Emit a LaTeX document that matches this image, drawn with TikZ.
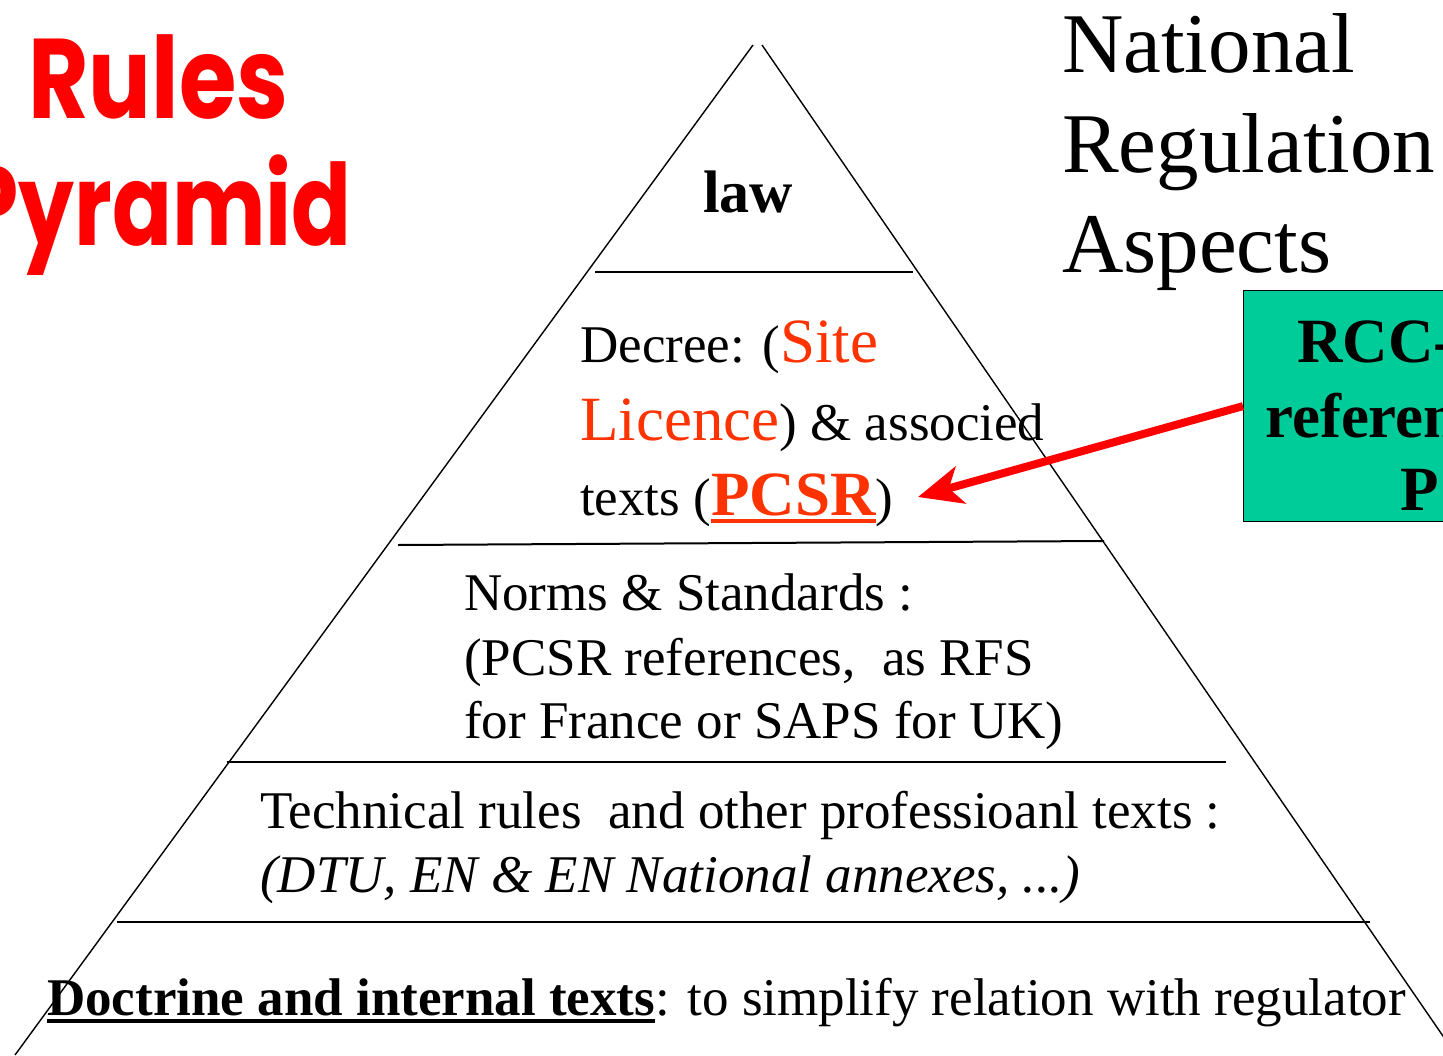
\documentclass[tikz,border=0pt]{standalone}
\usepackage{fontspec}
\setmainfont{Liberation Serif}
\newfontfamily\titlefont{Poppins}
\usetikzlibrary{arrows.meta}
\definecolor{titlered}{HTML}{FF0000}
\definecolor{hilite}{HTML}{FF3300}
\definecolor{boxgreen}{HTML}{00CC99}
\definecolor{arrowred}{HTML}{FF0000}
% font size helper (sizes given in pt)
\newcommand\sz[1]{\fontsize{#1}{#1}\selectfont}
% heavy underline that scales with the large text
\newcommand\thickul[1]{\setbox0\hbox{#1}\rlap{\rule[-8pt]{\wd0}{4pt}}\box0}
\begin{document}
\begin{tikzpicture}[x=1pt,y=-1pt,
  txt/.style={anchor=base west, inner sep=0pt, font=\sz{53}},
  natl/.style={anchor=base west, inner sep=0pt, font=\sz{85}},
  boxtxt/.style={anchor=base west, inner sep=0pt, font=\sz{63}\bfseries},
  titletxt/.style={inner sep=0pt, text=titlered, font=\titlefont\bfseries\sz{96}},
  side/.style={line width=1.4pt},
  tier/.style={line width=2pt},
  gbox/.style={draw=black, line width=1.2pt, fill=boxgreen, inner sep=0pt},
  pointer/.style={draw=arrowred, line width=8pt,
    -{Stealth[length=44pt,width=38pt,inset=12pt]}}]
\useasboundingbox (0,0) rectangle (1443,1055);
\clip (0,0) rectangle (1443,1055);

% pyramid outline
\draw[side] (753,45) -- (15,1055);
\draw[side] (762,45) -- (1456,1055);
% tier separators
\draw[tier] (595,272) -- (913,272);
\draw[tier] (398,545) -- (1104,541);
\draw[tier] (227,762) -- (1226,762);
\draw[tier] (117,922) -- (1370,922);

% title
\node[titletxt, anchor=base west] (t1) at (28,118) {\scalebox{0.97}[1.18]{Rules}};
\node[titletxt, anchor=base east] (t2) at (352,245) {\scalebox{0.92}[1.18]{Pyramid}};

% side heading
\node[natl] (n1) at (1062,72) {National};
\node[natl] (n2) at (1062,172) {Regulation};
\node[natl] (n3) at (1062,272) {Aspects};

% tier 1
\node[txt, font=\sz{60}\bfseries] (law) at (703,212) {law};

% tier 2
\node[txt] (d1) at (580,362) {Decree: (\textcolor{hilite}{\sz{63}Site}};
\node[txt] (d2) at (580,440) {\textcolor{hilite}{\sz{63}Licence}) \& associed};
\node[txt] (d3) at (580,515) {texts (\textcolor{hilite}{\sz{63}\bfseries\thickul{PCSR}})};

% tier 3
\node[txt] (s1) at (464,610) {Norms \& Standards :};
\node[txt] (s2) at (464,675) {(PCSR references,\ \ as RFS};
\node[txt] (s3) at (464,738) {for France or SAPS for UK)};

% tier 4
\node[txt] (r1) at (260,828) {Technical rules\ \ and other professioanl texts :};
\node[txt] (r2) at (260,892) {\itshape (DTU, EN \& EN National annexes, ...)};

% tier 5
\node[txt] (b1) at (47,1015) {\bfseries\thickul{Doctrine and internal texts}\mdseries: to simplify relation with regulator};

% green box and its label
\node[gbox, minimum width=260pt, minimum height=231pt, anchor=north west] (rcc) at (1243,290) {};
\node[boxtxt] (g1) at (1297,362) {RCC-};
\node[boxtxt] (g2) at (1265,437) {referen};
\node[boxtxt] (g3) at (1400,510) {P};

% pointer to PCSR
\coordinate (tip) at (918,497);
\draw[pointer] (rcc.west) -- (tip);
\end{tikzpicture}
\end{document}
